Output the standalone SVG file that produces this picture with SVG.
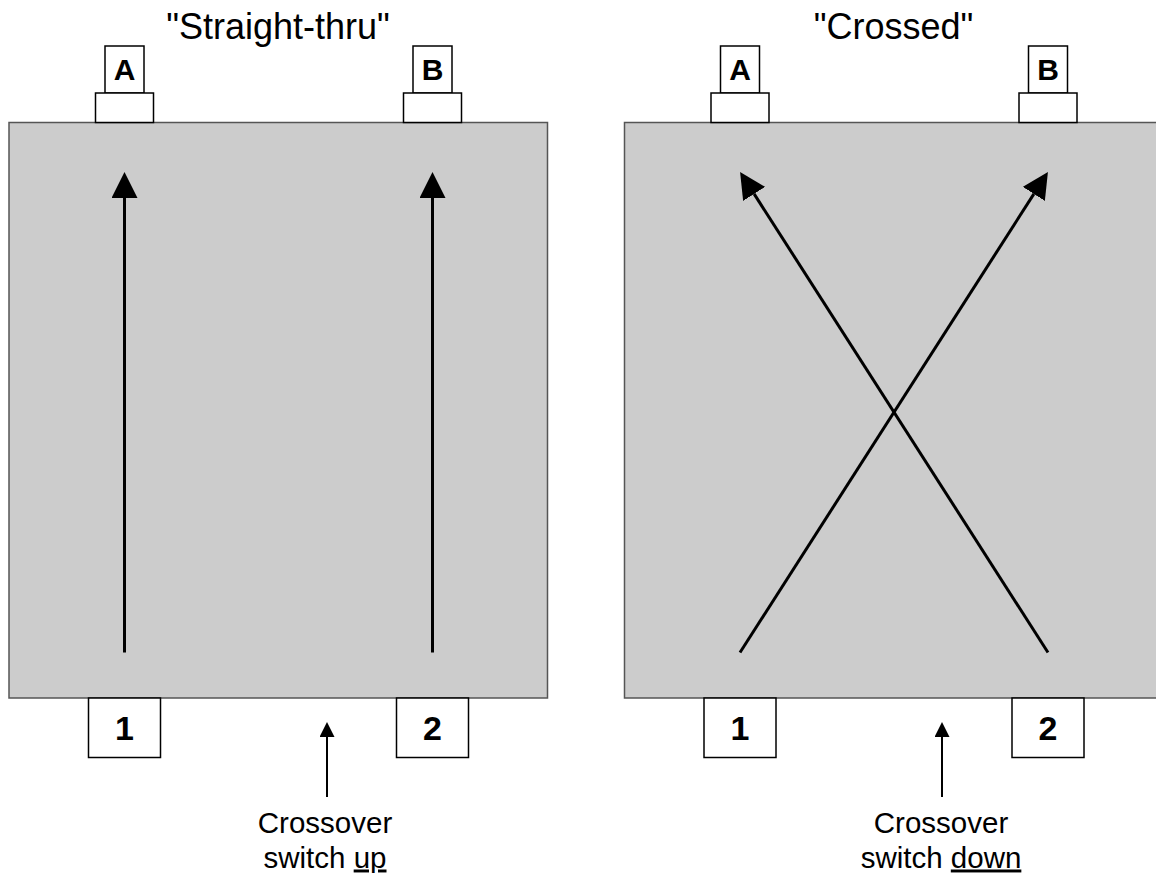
<svg xmlns="http://www.w3.org/2000/svg" width="1156" height="873" viewBox="0 0 1156 873">
<defs>
<style>
.panel{fill:#cccccc;stroke:#555555;stroke-width:1.5}
.box{fill:#ffffff;stroke:#000000;stroke-width:1.5}
.lbl{font-family:"Liberation Sans",Arial,sans-serif;font-weight:bold;fill:#000;text-anchor:middle}
.ttl{font-family:"Liberation Sans",Arial,sans-serif;font-size:36px;fill:#000;text-anchor:middle}
.note{font-family:"Liberation Sans",Arial,sans-serif;font-size:29.5px;fill:#000;text-anchor:middle}
.big{stroke:#000;stroke-width:3;fill:none;marker-end:url(#bigHead)}
.small{stroke:#000;stroke-width:2;fill:none;marker-end:url(#smallHead)}
</style>
<marker id="bigHead" markerUnits="userSpaceOnUse" markerWidth="26" markerHeight="26" refX="0" refY="13" orient="auto" viewBox="0 0 26 26">
<path d="M0,0 L26,13 L0,26 z" fill="#000"/>
</marker>
<marker id="smallHead" markerUnits="userSpaceOnUse" markerWidth="15" markerHeight="15" refX="0" refY="7.5" orient="auto" viewBox="0 0 15 15">
<path d="M0,0 L15,7.5 L0,15 z" fill="#000"/>
</marker>
</defs>
<rect width="1156" height="873" fill="#ffffff"/>

<g id="panel-straight">
<rect class="panel" x="9" y="122.5" width="538.5" height="575.5"/>
<text class="ttl" x="278" y="39">"Straight-thru"</text>
</g>
<g id="panel-crossed">
<rect class="panel" x="624.5" y="122.5" width="545" height="575.5"/>
<text class="ttl" x="893.5" y="39">"Crossed"</text>
</g>

<g id="left-port-A">
<rect class="box" x="105" y="46" width="39" height="47"/>
<rect class="box" x="95.5" y="93" width="58" height="29.5"/>
<text class="lbl" x="124.5" y="79.5" font-size="30">A</text>
</g>
<g id="left-port-B">
<rect class="box" x="413" y="46" width="39" height="47"/>
<rect class="box" x="403.5" y="93" width="58" height="29.5"/>
<text class="lbl" x="432.5" y="79.5" font-size="30">B</text>
</g>
<g id="left-port-1">
<rect class="box" x="88.5" y="698" width="72" height="59.5"/>
<text class="lbl" x="124.5" y="739.5" font-size="34">1</text>
</g>
<g id="left-port-2">
<rect class="box" x="396.5" y="698" width="72" height="59.5"/>
<text class="lbl" x="432.5" y="739.5" font-size="34">2</text>
</g>

<g id="right-port-A">
<rect class="box" x="720.5" y="46" width="39" height="47"/>
<rect class="box" x="711" y="93" width="58" height="29.5"/>
<text class="lbl" x="740" y="79.5" font-size="30">A</text>
</g>
<g id="right-port-B">
<rect class="box" x="1028.5" y="46" width="39" height="47"/>
<rect class="box" x="1019" y="93" width="58" height="29.5"/>
<text class="lbl" x="1048" y="79.5" font-size="30">B</text>
</g>
<g id="right-port-1">
<rect class="box" x="704" y="698" width="72" height="59.5"/>
<text class="lbl" x="740" y="739.5" font-size="34">1</text>
</g>
<g id="right-port-2">
<rect class="box" x="1012" y="698" width="72" height="59.5"/>
<text class="lbl" x="1048" y="739.5" font-size="34">2</text>
</g>

<g id="label-left">
<text class="note" x="325" y="833">Crossover</text>
<text class="note" x="325" y="867.5">switch <tspan text-decoration="underline">up</tspan></text>
</g>
<g id="label-right">
<text class="note" x="941" y="833">Crossover</text>
<text class="note" x="941" y="867.5">switch <tspan text-decoration="underline">down</tspan></text>
</g>

<g id="connectors">
<line class="big" x1="124.5" y1="652.5" x2="124.5" y2="198"/>
<line class="big" x1="432.5" y1="652.5" x2="432.5" y2="198"/>
<line class="big" x1="1048" y1="652.5" x2="754.1" y2="193.9"/>
<line class="big" x1="740" y1="652.5" x2="1033.9" y2="193.9"/>
<line class="small" x1="327" y1="797" x2="327" y2="737"/>
<line class="small" x1="942" y1="797" x2="942" y2="737"/>
</g>
</svg>
